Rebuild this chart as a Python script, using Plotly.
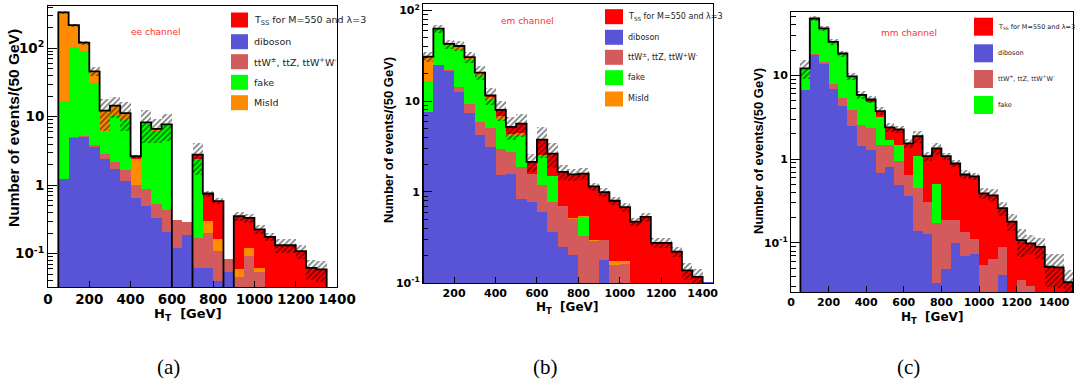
import numpy as np
import plotly.graph_objects as go

W, H = 1075, 385
BIN_W = 50

# ---------------- data (events per 50 GeV bin) ----------------
# ee channel: bin lower edges
ee_bin_low = [50, 100, 150, 200, 250, 300, 350, 400, 450, 500, 550, 600, 650,
              700, 750, 800, 850, 900, 950, 1000, 1050, 1100, 1150, 1200, 1250, 1300]
ee_diboson = [1.25, 4.9, 5.1, 3.6, 2.45, 1.73, 1.14, 0.65, 0.49, 0.33, 0.21, 0.12, 0.19,
              0.062, 0.062, 0.04, 0.055, 0, 0, 0, 0, 0, 0, 0, 0, 0]
ee_ttv = [0, 0.1, 0.1, 0.3, 0.41, 0.46, 0.55, 0.35, 0.39, 0.21, 0.22, 0.19, 0.1,
          0.11, 0.14, 0.07, 0.03, 0.045, 0.094, 0.054, 0, 0, 0, 0, 0, 0]
ee_fake = [16, 98, 85, 27, 3.2, 8.5, 7.4, 0, 7.0, 5.6, 7.0, 0, 0,
           2.2, 0, 0, 0, 0, 0, 0, 0, 0, 0, 0, 0, 0]
ee_misid = [316, 114, 31, 15, 6.2, 3.8, 2.2, 1.42, 0.4, 0.5, 0.3, 0, 0,
            0.08, 0.1, 0.055, 0, 0.015, 0.028, 0.008, 0, 0, 0, 0, 0, 0]
ee_signal = [0, 0, 0, 0, 0, 0, 0, 0.23, 0, 0, 0, 0, 0,
             0.35, 0.455, 0.42, 0, 0.293, 0.212, 0.164, 0.176, 0.133, 0.133, 0.109, 0.062, 0.059]
ee_err = [12, 12, 8, 7, 6, 5, 5, 0.12, 4.2, 2.5, 3.3, 0, 0,
          1.4, 0.08, 0.06, 0, 0.05, 0.05, 0.035, 0.025, 0.03, 0.03, 0.025, 0.02, 0.02]

# em channel
em_bin_low = [50, 100, 150, 200, 250, 300, 350, 400, 450, 500, 550, 600, 650, 700,
              750, 800, 850, 900, 950, 1000, 1050, 1100, 1150, 1200, 1250, 1300, 1350, 1400]
em_diboson = [7.6, 24.8, 21.3, 12.6, 7.4, 4.2, 3.13, 1.55, 1.59, 0.83, 0.78, 0.6, 0.36, 0.25,
              0.2, 0, 0.1, 0.177, 0, 0, 0, 0, 0, 0, 0, 0, 0, 0.103]
em_ttv = [0, 0, 0.9, 1.7, 1.8, 1.7, 1.94, 1.45, 1.16, 1.05, 0.8, 0.58, 0.42, 0.445,
          0.3, 0.325, 0.19, 0.117, 0.156, 0.16, 0, 0, 0, 0, 0, 0, 0, 0]
em_fake = [8.9, 36.4, 18.0, 22.6, 19.0, 12.9, 5.1, 3.4, 1.35, 2.32, 0, 1.35, 0.71, 0,
           0, 0.205, 0, 0, 0, 0, 0, 0, 0, 0, 0, 0, 0, 0]
em_misid = [14.1, 1.5, 2.3, 3.4, 2.2, 1.4, 0.9, 0.4, 0.3, 0.3, 0, 0, 0, 0,
            0.01, 0.02, 0.005, 0.003, 0.018, 0.014, 0, 0, 0, 0, 0, 0, 0, 0]
em_signal = [0.3, 0.3, 0.2, 0.2, 0.2, 0.4, 0.5, 1.2, 0.8, 1.15, 0.56, 1.24, 1.15, 0.965,
             1.05, 1.04, 0.855, 0.7, 0.626, 0.506, 0.47, 0.53, 0.275, 0.275, 0.22, 0.137, 0.116, 0]
em_err = [4, 6, 5, 5, 4, 3.6, 2.5, 2, 1.5, 1.6, 0.5, 1.4, 0.8, 0.3,
          0.25, 0.25, 0.12, 0.12, 0.09, 0.08, 0.05, 0.06, 0.035, 0.035, 0.03, 0.03, 0.025, 0]

# mm channel
mm_bin_low = [50, 100, 150, 200, 250, 300, 350, 400, 450, 500, 550, 600, 650, 700, 750,
              800, 850, 900, 950, 1000, 1050, 1100, 1150, 1200, 1250, 1300, 1350, 1400, 1450]
mm_diboson = [6.65, 17.7, 13.6, 6.78, 4.29, 2.48, 1.44, 1.28, 0.69, 0.8, 0.49, 0.36, 0.138, 0.127, 0.033,
              0.049, 0.1, 0.07, 0.073, 0, 0, 0.042, 0, 0, 0, 0, 0, 0, 0]
mm_ttv = [0.1, 0.3, 0.9, 1.07, 1.1, 1.36, 1.11, 1.04, 0.78, 0.67, 0.46, 0.28, 0.31, 0.18, 0.138,
          0.138, 0.087, 0.066, 0.04, 0.055, 0.064, 0.048, 0, 0.036, 0.031, 0, 0, 0, 0]
mm_fake = [5.35, 29.6, 21.7, 17.25, 12.8, 5.76, 3.09, 2.5, 1.73, 0.22, 0.52, 0, 0.64, 0, 0.34,
           0, 0, 0, 0, 0, 0, 0, 0, 0, 0, 0, 0, 0, 0]
mm_misid = [0] * 29
mm_signal = [0, 0, 0, 0, 0, 0.1, 0.21, 0.32, 0.54, 0.7, 0.79, 0.9, 0.79, 0.78, 0.83,
             0.9, 0.7, 0.52, 0.51, 0.335, 0.306, 0.17, 0.18, 0.072, 0.068, 0.09, 0.052, 0.051, 0.034]
mm_err = [3, 3, 2.5, 2, 1.5, 1, 0.6, 0.5, 0.4, 0.3, 0.21, 0.18, 0.3, 0.13, 0.23,
          0.1, 0.08, 0.08, 0.06, 0.057, 0.065, 0.05, 0.04, 0.04, 0.025, 0.025, 0.022, 0.022, 0.014]

legend_labels = ["T<sub>SS</sub> for M=550 and λ=3", "diboson",
                 "ttW<sup>±</sup>, ttZ, ttW<sup>+</sup>W<sup>-</sup>", "fake", "MisId"]
x_tick_vals = [0, 200, 400, 600, 800, 1000, 1200, 1400]

# ---------------- styling ----------------
C_SIG, C_MIS, C_FAKE, C_TTV, C_DIB = "#ff0000", "#ff8c00", "#00ff00", "#d45b5b", "#5953d6"
LEG_COLORS = [C_SIG, C_DIB, C_TTV, C_FAKE, C_MIS]
TINY = 1e-9


def px(x):
    return x / W


def py(y):
    return 1 - y / H


panels = [
    dict(ax="", low=ee_bin_low, dib=ee_diboson, ttv=ee_ttv, fake=ee_fake, mis=ee_misid,
         sig=ee_signal, err=ee_err,
         frame=(48, 337, 6, 287), xr=[0, 1400], yr=[-1.486, 2.617],
         yt=[0.1, 1, 10, 100], ytt=["10<sup>-1</sup>", "1", "10", "10<sup>2</sup>"],
         tickfs=13.5, chan="ee channel", chan_xy=(156, 32),
         ytitle_xy=(13, 128), ytitle_fs=15.5, xtitle_xy=(188, 314), xtitle_fs=13,
         sub="(a)", sub_x=168,
         leg=dict(x0=231, x1=248, rows=[20, 41.7, 61.7, 82.3, 102.7], h=15, tx=253, fs=9.5, n=5)),
    dict(ax="2", low=em_bin_low, dib=em_diboson, ttv=em_ttv, fake=em_fake, mis=em_misid,
         sig=em_signal, err=em_err,
         frame=(423, 713, 4, 283), xr=[50, 1450], yr=[-1.003, 2.07],
         yt=[0.1, 1, 10, 100], ytt=["10<sup>-1</sup>", "1", "10", "10<sup>2</sup>"],
         tickfs=11, chan="em channel", chan_xy=(527, 21),
         ytitle_xy=(388, 140), ytitle_fs=13, xtitle_xy=(567, 308), xtitle_fs=12,
         sub="(b)", sub_x=545,
         leg=dict(x0=605, x1=623, rows=[16.7, 37.3, 57.3, 77.7, 99], h=15, tx=627, fs=8, n=5)),
    dict(ax="3", low=mm_bin_low, dib=mm_diboson, ttv=mm_ttv, fake=mm_fake, mis=mm_misid,
         sig=mm_signal, err=mm_err,
         frame=(791, 1073, 12, 292), xr=[0, 1500], yr=[-1.585, 1.755],
         yt=[0.1, 1, 10], ytt=["10<sup>-1</sup>", "1", "10"],
         tickfs=11, chan="mm channel", chan_xy=(909, 33),
         ytitle_xy=(758, 151), ytitle_fs=13, xtitle_xy=(932, 318), xtitle_fs=12,
         sub="(c)", sub_x=908,
         leg=dict(x0=974, x1=993, rows=[26.7, 53.3, 79, 105], h=18, tx=997, fs=6.5, n=4)),
]

fig = go.Figure()
shapes, annotations = [], []
layout_axes = {}

for p in panels:
    xa, ya = "x" + p["ax"], "y" + p["ax"]
    low = np.array(p["low"], float)
    centers = low + BIN_W / 2
    dib, ttv, fake, mis, sig, err = (np.array(p[k], float) for k in
                                     ["dib", "ttv", "fake", "mis", "sig", "err"])
    c1 = dib
    c2 = c1 + ttv
    c3 = c2 + fake
    c4 = c3 + mis
    c5 = c4 + sig
    # stacked histogram drawn as overlaid cumulative bars (largest first)
    for vals, col in [(c5, C_SIG), (c4, C_MIS), (c3, C_FAKE), (c2, C_TTV), (c1, C_DIB)]:
        fig.add_bar(x=centers, y=vals, width=BIN_W, xaxis=xa, yaxis=ya,
                    marker=dict(color=col, line=dict(width=0)),
                    showlegend=False, hoverinfo="skip")
    # hatched uncertainty band
    fig.add_bar(x=centers, y=2 * err, base=c5 - err, width=BIN_W, xaxis=xa, yaxis=ya,
                marker=dict(color="rgba(0,0,0,0)", line=dict(width=0),
                            pattern=dict(shape="/", fgcolor="black", bgcolor="rgba(0,0,0,0)",
                                         size=4, solidity=0.45, fillmode="overlay")),
                showlegend=False, hoverinfo="skip")
    # black outline of the total (only where fake/misid/signal contribute)
    mask = (fake + mis + sig) > 0
    outline = np.where(mask, c5, TINY)
    hi = low[-1] + BIN_W
    xs = np.concatenate([[low[0]], low, [hi, hi]])
    ys = np.concatenate([[TINY], outline, [outline[-1], TINY]])
    fig.add_scatter(x=xs, y=ys, mode="lines", xaxis=xa, yaxis=ya,
                    line=dict(color="black", width=1.8, shape="hv"),
                    showlegend=False, hoverinfo="skip")

    l, r, t, b = p["frame"]
    tickfont = dict(family="DejaVu Sans", size=p["tickfs"], color="black", weight="bold")
    xt = [v for v in x_tick_vals if p["xr"][0] < v <= p["xr"][1]] if p["ax"] == "2" else x_tick_vals
    layout_axes["xaxis" + p["ax"]] = dict(
        domain=[px(l), px(r)], range=p["xr"], anchor=ya, tickmode="array", tickvals=xt,
        ticks="inside", ticklen=6, tickcolor="black", showline=True, mirror=True,
        linecolor="black", linewidth=1, showgrid=False, zeroline=False, tickfont=tickfont)
    minor_vals = [k * 10.0 ** d for d in range(-2, 3) for k in range(2, 10)]
    layout_axes["yaxis" + p["ax"]] = dict(
        domain=[py(b), py(t)], type="log", range=p["yr"], anchor=xa, tickmode="array",
        tickvals=p["yt"], ticktext=p["ytt"], ticks="inside", ticklen=9, tickcolor="black",
        minor=dict(tickmode="array", tickvals=minor_vals, ticks="inside", ticklen=5,
                   tickcolor="black"),
        showline=True, mirror=True, linecolor="black", linewidth=1, showgrid=False,
        zeroline=False, tickfont=tickfont)

    # titles
    annotations.append(dict(text="Number of events/(50 GeV)", xref="paper", yref="paper",
                            x=px(p["ytitle_xy"][0]), y=py(p["ytitle_xy"][1]), textangle=-90,
                            showarrow=False, xanchor="center", yanchor="middle",
                            font=dict(family="Liberation Sans", size=p["ytitle_fs"],
                                      color="black", weight="bold")))
    annotations.append(dict(text="H<sub>T</sub>  [GeV]", xref="paper", yref="paper",
                            x=px(p["xtitle_xy"][0]), y=py(p["xtitle_xy"][1]),
                            showarrow=False, xanchor="center", yanchor="middle", borderpad=0,
                            font=dict(family="DejaVu Sans", size=p["xtitle_fs"],
                                      color="black", weight="bold")))
    annotations.append(dict(text=p["chan"], xref="paper", yref="paper",
                            x=px(p["chan_xy"][0]), y=py(p["chan_xy"][1]),
                            showarrow=False, xanchor="center", yanchor="middle",
                            font=dict(family="DejaVu Sans", size=9, color="#ff3030")))
    annotations.append(dict(text=p["sub"], xref="paper", yref="paper",
                            x=px(p["sub_x"]), y=py(367), showarrow=False,
                            xanchor="center", yanchor="middle",
                            font=dict(family="Liberation Serif", size=21, color="black")))
    # legend
    lg = p["leg"]
    for i in range(lg["n"]):
        yc = lg["rows"][i]
        shapes.append(dict(type="rect", xref="paper", yref="paper",
                           x0=px(lg["x0"]), x1=px(lg["x1"]),
                           y0=py(yc + lg["h"] / 2), y1=py(yc - lg["h"] / 2),
                           fillcolor=LEG_COLORS[i], line=dict(width=0)))
        annotations.append(dict(text=legend_labels[i], xref="paper", yref="paper",
                                x=px(lg["tx"]), y=py(yc), showarrow=False,
                                xanchor="left", yanchor="middle", borderpad=0,
                                font=dict(family="DejaVu Sans", size=lg["fs"], color="#222222")))

fig.update_layout(
    width=W, height=H, margin=dict(l=0, r=0, t=0, b=0),
    paper_bgcolor="white", plot_bgcolor="white", template="none",
    barmode="overlay", bargap=0, showlegend=False,
    shapes=shapes, annotations=annotations, **layout_axes)

fig.write_html("out.html", config={"displayModeBar": False, "staticPlot": True},
               post_script="document.body.style.margin='0px';document.body.style.padding='0px';")
